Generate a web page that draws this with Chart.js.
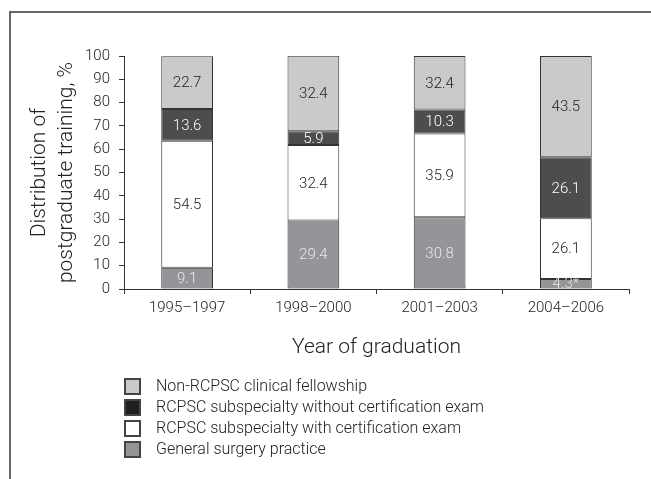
<!DOCTYPE html>
<html>
<head>
<meta charset="utf-8">
<script src="https://cdn.jsdelivr.net/npm/chart.js@4.4.1/dist/chart.umd.min.js"></script>
<style>
  html, body { margin: 0; padding: 0; background: #fff; }
  #wrap { position: relative; width: 651px; height: 479px; overflow: hidden; }
  #frame { position: absolute; left: 9px; top: 11px; right: -5px; bottom: -5px;
           border-top: 2px solid #666; border-left: 2px solid #666; }
  #myChart { position: absolute; left: 0; top: 0; }
  #legend { position: absolute; left: 124px; top: 377px; font-family: Roboto, "Liberation Sans", sans-serif;
            font-weight: 300; font-size: 16px; color: #222; }
  #legend .row { height: 21px; position: relative; }
  #legend .box { position: absolute; left: 0; top: 1px; width: 13px; height: 13px; border: 2px solid #444; }
  #legend .txt { position: absolute; left: 32px; top: -1px; white-space: nowrap; }
</style>
</head>
<body>
<div id="wrap">
  <div id="frame"></div>
  <canvas id="myChart" width="651" height="479"></canvas>
  <div id="legend"></div>
</div>
<script>
// categories
var years = ["1995–1997", "1998–2000", "2001–2003", "2004–2006"];

// series values, % (bottom of the stack first)
var generalSurgery = [9.1, 29.4, 30.8, 4.3];
var withCert = [54.5, 32.4, 35.9, 26.1];
var withoutCert = [13.6, 5.9, 10.3, 26.1];
var nonRcpsc = [22.7, 32.4, 23.0, 43.5]; // 2001–2003 bar is drawn ~23 tall though printed 32.4

// printed labels inside the bars
var generalSurgeryText = ["9.1", "29.4", "30.8", "4.3*"];
var withCertText = ["54.5", "32.4", "35.9", "26.1"];
var withoutCertText = ["13.6", "5.9", "10.3", "26.1"];
var nonRcpscText = ["22.7", "32.4", "32.4", "43.5"];

var yTicks = [0, 10, 20, 30, 40, 50, 60, 70, 80, 90, 100];

var fontFam = "Roboto, 'Liberation Sans', sans-serif";
var axisColor = "#333";
var textColor = "#222";

var series = [
  { label: "General surgery practice", data: generalSurgery, text: generalSurgeryText, bg: "#939598", box: "#939598", fg: "#e8e8e8" },
  { label: "RCPSC subspecialty with certification exam", data: withCert, text: withCertText, bg: "#ffffff", box: "#ffffff", fg: textColor },
  { label: "RCPSC subspecialty without certification exam", data: withoutCert, text: withoutCertText, bg: "#4d4d4f", box: "#231f20", fg: "#ffffff" },
  { label: "Non-RCPSC clinical fellowship", data: nonRcpsc, text: nonRcpscText, bg: "#c9cacc", box: "#c9cacc", fg: textColor }
];

//===================Bar value labels==================//
var barLabels = {
  id: "barLabels",
  afterDatasetsDraw: function(chart) {
    var ctx = chart.ctx;
    ctx.save();
    ctx.font = "300 15px " + fontFam;
    ctx.textAlign = "center";
    ctx.textBaseline = "middle";
    chart.data.datasets.forEach(function(ds, i) {
      var meta = chart.getDatasetMeta(i);
      meta.data.forEach(function(bar, j) {
        ctx.fillStyle = series[i].fg;
        ctx.fillText(series[i].text[j], bar.x, (bar.y + bar.base) / 2 + 1);
      });
    });
    ctx.restore();
  }
};

var ctx = document.getElementById("myChart").getContext("2d");
new Chart(ctx, {
  type: "bar",
  data: {
    labels: years,
    datasets: series.map(function(s) {
      return {
        label: s.label,
        data: s.data,
        backgroundColor: s.bg,
        borderColor: "#333",
        borderWidth: 1,
        borderSkipped: false,
        categoryPercentage: 1,
        barPercentage: 0.41
      };
    })
  },
  options: {
    responsive: false,
    animation: false,
    events: [],
    layout: { padding: { top: 56, right: 22, left: 0, bottom: 110 } },
    plugins: { legend: { display: false }, tooltip: { enabled: false } },
    scales: {
      x: {
        stacked: true,
        afterFit: function(s) { s.height = 80; },
        grid: { drawOnChartArea: false, color: axisColor, tickLength: 5, tickColor: axisColor },
        border: { color: axisColor, width: 1 },
        ticks: { color: textColor, padding: 5, font: { family: fontFam, size: 15, weight: "300" } },
        title: {
          display: true, text: "Year of graduation", color: textColor,
          padding: { top: 0, bottom: 9 },
          font: { family: fontFam, size: 21, weight: "300", lineHeight: 1.2 }
        }
      },
      y: {
        stacked: true,
        min: 0, max: 100,
        afterFit: function(s) { s.width = 124; },
        afterBuildTicks: function(s) { s.ticks = yTicks.map(function(v) { return { value: v }; }); },
        grid: { drawOnChartArea: false, color: axisColor, tickLength: 5, tickColor: axisColor },
        border: { color: axisColor, width: 1 },
        ticks: { color: textColor, padding: 9, font: { family: fontFam, size: 15, weight: "300" } },
        title: {
          display: true, text: ["Distribution of", "postgraduate training, %"], color: textColor,
          padding: { top: 26, bottom: 0 },
          font: { family: fontFam, size: 21, weight: "300", lineHeight: 1.3 }
        }
      }
    }
  },
  plugins: [barLabels]
});

//============================Legend======================//
var legend = document.getElementById("legend");
series.slice().reverse().forEach(function(s) {
  var row = document.createElement("div");
  row.className = "row";
  row.innerHTML = '<span class="box" style="background:' + s.box + '"></span><span class="txt">' + s.label + "</span>";
  legend.appendChild(row);
});
</script>
</body>
</html>
